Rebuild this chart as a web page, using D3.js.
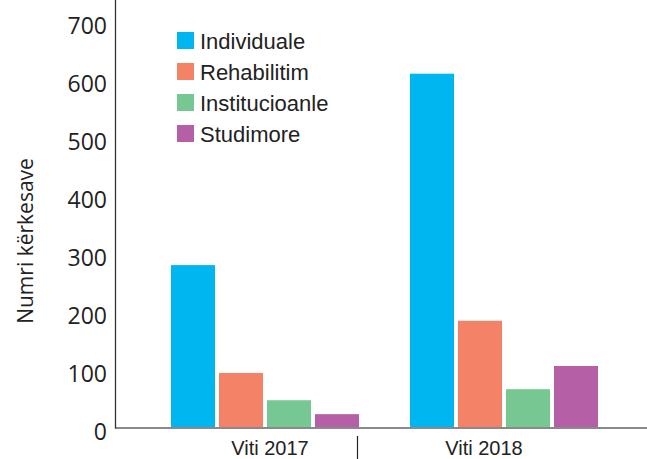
<!DOCTYPE html>
<html>
<head>
<meta charset="utf-8">
<script src="https://cdn.jsdelivr.net/npm/d3@7"></script>
<style>
  html, body { margin: 0; padding: 0; background: #fff; }
  svg { display: block; }
</style>
</head>
<body>
<svg id="chart" width="647" height="459"></svg>
<script>
const years = ["Viti 2017", "Viti 2018"];
const series = ["Individuale", "Rehabilitim", "Institucioanle", "Studimore"];
const values2017 = [280, 94, 47, 23];
const values2018 = [610, 184, 66, 106];
const yTicks = [0, 100, 200, 300, 400, 500, 600, 700];
const colors = ["#00B6F0", "#F48267", "#77C792", "#B55FA6"];
const yTitle = "Numri kërkesave";

const data = years.map((y, i) => ({
  year: y,
  vals: series.map((s, j) => ({ key: s, value: (i === 0 ? values2017 : values2018)[j] }))
}));

const svg = d3.select("#chart");

const y = d3.scaleLinear().domain([0, 700]).range([427.5, 21.5]);
const x0 = d3.scaleBand().domain(years).range([171, 598]).paddingInner(51 / 239);
const x1 = d3.scaleBand().domain(series).range([0, x0.bandwidth()]).paddingInner(4 / 48);
const color = d3.scaleOrdinal().domain(series).range(colors);

// bars
svg.append("g").selectAll("g")
  .data(data).join("g")
  .attr("transform", d => `translate(${x0(d.year)},0)`)
  .selectAll("rect")
  .data(d => d.vals).join("rect")
  .attr("x", d => x1(d.key))
  .attr("width", x1.bandwidth())
  .attr("y", d => y(d.value))
  .attr("height", d => y(0) - y(d.value))
  .attr("fill", d => color(d.key));

// x baseline
svg.append("line")
  .attr("x1", 115).attr("x2", 647)
  .attr("y1", y(0) + 0.5).attr("y2", y(0) + 0.5)
  .attr("stroke", "#8a8a8a").attr("stroke-width", 2);

// y axis
const yAxis = d3.axisLeft(y).tickValues(yTicks).tickSize(0).tickPadding(8);
const gy = svg.append("g").attr("transform", "translate(115,0)").call(yAxis);
gy.select(".domain").remove();
gy.selectAll("text")
  .attr("font-family", "'Open Sans', sans-serif")
  .attr("font-size", 23)
  .attr("fill", "#222")
  .attr("dy", "0.5em");
svg.append("line")
  .attr("x1", 115.5).attr("x2", 115.5)
  .attr("y1", 0).attr("y2", y(0) + 1)
  .attr("stroke", "#333").attr("stroke-width", 1.3);

// y title
svg.append("text")
  .attr("transform", "translate(33,241) rotate(-90)")
  .attr("text-anchor", "middle")
  .attr("font-family", "'Open Sans', sans-serif")
  .attr("font-size", 21)
  .attr("fill", "#222")
  .text(yTitle);

// x labels
const labelShift = { "Viti 2017": 5, "Viti 2018": -20 };
svg.append("g").selectAll("text")
  .data(years).join("text")
  .attr("x", d => x0(d) + x0.bandwidth() / 2 + labelShift[d])
  .attr("y", 455)
  .attr("text-anchor", "middle")
  .attr("font-family", "'Liberation Sans', Arial, sans-serif")
  .attr("font-size", 20)
  .attr("fill", "#222")
  .text(d => d);

// separator tick between groups
svg.append("line")
  .attr("x1", x0(years[0]) + x0.bandwidth() - 1.5)
  .attr("x2", x0(years[0]) + x0.bandwidth() - 1.5)
  .attr("y1", 436).attr("y2", 459)
  .attr("stroke", "#222").attr("stroke-width", 1.2);

// legend
const legend = svg.append("g").attr("transform", "translate(177,32)");
const li = legend.selectAll("g").data(series).join("g")
  .attr("transform", (d, i) => `translate(0,${i * 31})`);
li.append("rect").attr("width", 17).attr("height", 17).attr("fill", d => color(d));
li.append("text")
  .attr("x", 23).attr("y", 16.5)
  .attr("font-family", "'Liberation Sans', Arial, sans-serif")
  .attr("font-size", 22)
  .attr("fill", "#222")
  .text(d => d);
</script>
</body>
</html>
